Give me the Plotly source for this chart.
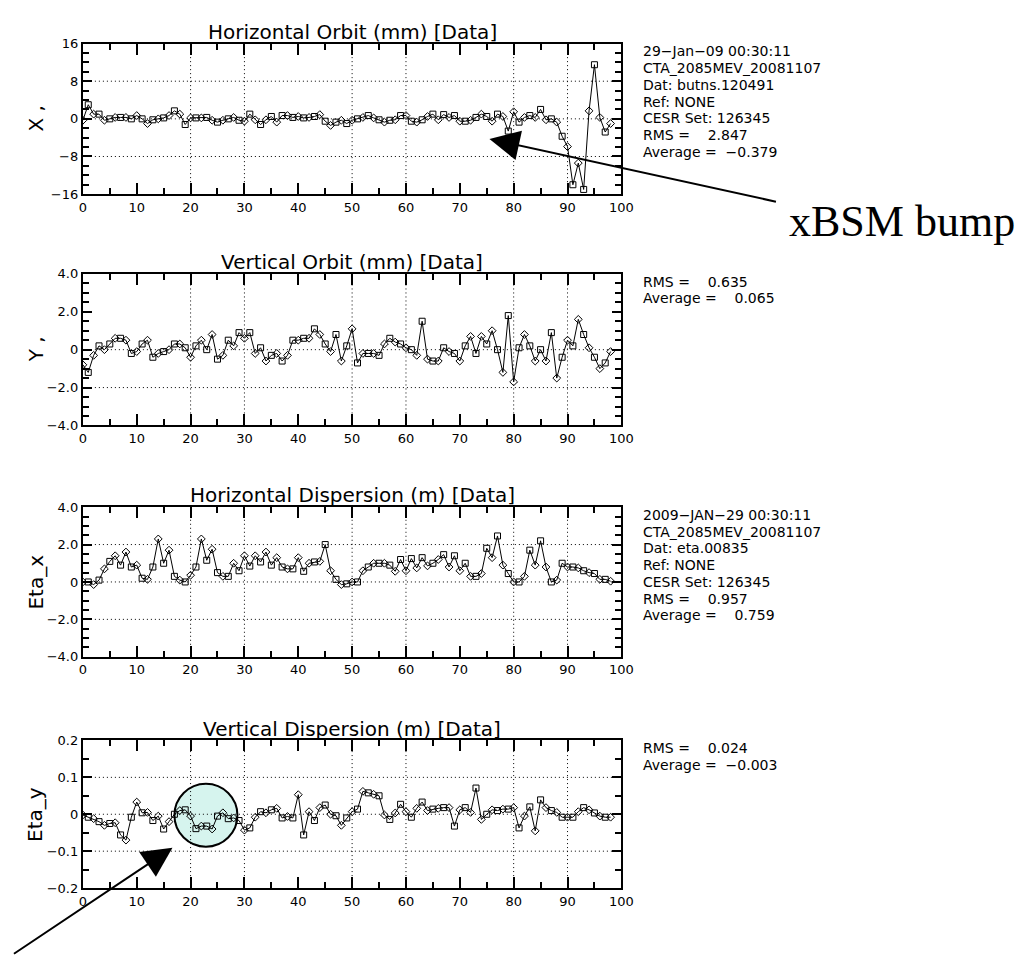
import plotly.graph_objects as go

W, H = 1028, 956

# ---------------- data ----------------
IDX = list(range(99))

X_ORBIT = [-0.3, 3.0, 1.0, 1.0, -0.3, 0.0, 0.3, 0.3, 0.3, 0.0,
           0.7, 0.0, -1.0, -0.2, 0.0, 0.2, 0.7, 1.7, 1.0, -1.2,
           0.2, 0.2, 0.2, 0.3, -0.3, -0.7, -0.3, 0.0, 0.3, -0.3,
           -0.5, 1.0, -0.2, -1.2, -0.2, 0.5, -0.7, 0.7, 0.7, 0.3,
           0.5, 0.2, 0.3, 0.5, 0.9, -0.5, -1.4, -0.7, -0.3, -1.0,
           -0.3, 0.0, 0.3, 0.7, 0.2, -0.2, -0.7, -0.3, -0.2, 0.7,
           0.7, -0.5, -0.7, -0.2, 0.5, 1.0, -0.2, 0.9, 0.3, 0.7,
           -0.5, -0.5, -0.3, 0.3, 1.0, 0.5, -0.5, 1.0, 0.5, -2.6,
           1.5, -0.7, 0.3, 0.7, 0.3, 2.0, -0.2, 0.0, -0.7, -3.7,
           -5.9, -14.0, -9.4, -15.0, 1.7, 11.5, 0.3, -2.8, -1.0]

Y_ORBIT = [-0.8, -1.2, -0.3, 0.2, 0.0, 0.3, 0.6, 0.6, 0.5, -0.2,
           -0.1, 0.3, 0.5, -0.4, -0.2, -0.1, 0.0, 0.3, 0.3, 0.1,
           -0.4, 0.2, 0.5, 0.0, 0.8, -0.5, -0.3, 0.5, 0.2, 0.9,
           0.6, 0.9, -0.2, 0.1, -0.6, -0.3, -0.2, -0.6, -0.3, 0.5,
           0.5, 0.6, 0.6, 1.1, 0.8, 0.3, -0.1, 0.8, -0.6, 0.2,
           1.1, -0.7, -0.2, -0.2, -0.2, -0.3, 0.3, 0.6, 0.4, 0.3,
           0.1, 0.0, -0.3, 1.5, -0.5, -0.6, -0.6, 0.1, -0.1, -0.2,
           -0.6, 0.2, 0.7, -0.2, 0.7, 0.3, 1.0, 0.0, -1.2, 1.8,
           -1.7, 0.1, 0.8, 0.2, -0.6, 0.0, -0.6, 0.9, -1.5, -0.4,
           0.5, 0.2, 1.6, 0.8, 0.1, -0.4, -1.0, -0.7, -0.1]

ETA_X = [0.0, 0.0, -0.14, 0.1, 0.7, 1.1, 1.4, 0.9, 1.6, 0.8,
         0.9, 0.2, 0.14, 0.8, 2.3, 1.0, 1.7, 0.3, 0.1, 0.0,
         0.36, 0.8, 2.3, 1.16, 1.75, 0.5, 0.3, 0.3, 1.0, 0.6,
         1.4, 0.85, 1.4, 1.07, 1.6, 0.9, 1.3, 0.8, 0.7, 0.7,
         1.3, 0.57, 1.0, 1.07, 1.1, 2.0, 0.6, 0.14, -0.14, -0.1,
         0.0, 0.0, 0.6, 0.8, 1.0, 1.0, 1.0, 0.9, 0.57, 1.2,
         0.6, 1.25, 0.75, 1.3, 0.86, 1.0, 1.2, 1.46, 0.8, 1.4,
         0.6, 1.0, 0.3, 0.3, 0.45, 1.8, 1.3, 2.46, 0.9, 0.45,
         0.0, 0.0, 0.3, 1.7, 0.9, 2.2, 0.8, 0.0, 0.1, 1.0,
         0.8, 0.8, 0.75, 0.6, 0.5, 0.45, 0.14, 0.14, 0.04]

ETA_Y = [-0.002, -0.008, -0.012, -0.02, -0.03, -0.025, -0.023, -0.056, -0.07, -0.008,
         0.033, 0.004, 0.005, -0.017, -0.005, -0.04, -0.02, 0.0, 0.01, 0.012,
         -0.005, -0.039, -0.032, -0.032, -0.04, -0.005, 0.004, -0.012, -0.01, -0.017,
         -0.043, -0.037, -0.008, 0.007, 0.004, 0.012, 0.016, -0.01, -0.006, -0.01,
         0.053, -0.056, 0.007, -0.017, 0.018, 0.025, 0.0, -0.004, -0.03, -0.01,
         0.007, 0.014, 0.062, 0.058, 0.054, 0.05, -0.002, -0.014, 0.0035, 0.027,
         0.007, -0.008, 0.016, 0.033, 0.01, 0.014, 0.016, 0.018, 0.018, -0.032,
         0.012, 0.018, 0.005, 0.071, -0.014, 0.0, 0.012, 0.01, 0.014, 0.014,
         0.018, -0.037, -0.005, 0.02, -0.045, 0.039, 0.018, 0.01, 0.005, -0.008,
         -0.008, -0.008, 0.007, 0.018, 0.012, 0.0035, -0.005, -0.008, -0.008]

SERIES = [X_ORBIT, Y_ORBIT, ETA_X, ETA_Y]

PANEL_TITLES = ["Horizontal Orbit (mm) [Data]", "Vertical Orbit (mm) [Data]",
                "Horizontal Dispersion (m) [Data]", "Vertical Dispersion (m) [Data]"]
Y_TITLES = ["X ,", "Y ,", "Eta_x", "Eta_y"]
Y_RANGES = [[-16, 16], [-4, 4], [-4, 4], [-0.2, 0.2]]
Y_TICKVALS = [[-16, -8, 0, 8, 16], [-4, -2, 0, 2, 4], [-4, -2, 0, 2, 4], [-0.2, -0.1, 0, 0.1, 0.2]]
Y_TICKTEXT = [["\u221216", "\u22128", "0", "8", "16"],
              ["\u22124.0", "\u22122.0", "0", "2.0", "4.0"],
              ["\u22124.0", "\u22122.0", "0", "2.0", "4.0"],
              ["\u22120.2", "\u22120.1", "0", "0.1", "0.2"]]
Y_MINOR = [2, 0.5, 0.5, 0.05]
X_TICKVALS = [0, 10, 20, 30, 40, 50, 60, 70, 80, 90, 100]
GRID_X = [20, 30, 50, 60, 80, 90]
GRID_Y = [[8, 0, -8], [0, -2], [2, 0, -2], [0.1, 0, -0.1]]

INFO = [["29\u2212Jan\u221209 00:30:11", "CTA_2085MEV_20081107", "Dat: butns.120491",
         "Ref: NONE", "CESR Set: 126345", "RMS =    2.847", "Average =  \u22120.379"],
        ["RMS =    0.635", "Average =    0.065"],
        ["2009\u2212JAN\u221229 00:30:11", "CTA_2085MEV_20081107", "Dat: eta.00835",
         "Ref: NONE", "CESR Set: 126345", "RMS =    0.957", "Average =    0.759"],
        ["RMS =    0.024", "Average =  \u22120.003"]]

# ---------------- layout geometry (pixels) ----------------
PLOT_L, PLOT_R = 72, 619
PANEL_TOP = [29, 263, 500, 737]
PANEL_BOT = [182, 417, 652, 887]
INFO_X = 639
INFO_DY = 17


def px(p):
    return p / W


def py(p):
    return 1 - p / H


FONT = "DejaVu Sans"
fig = go.Figure()
annotations = []
shapes = []

# highlight circle (below data)
shapes.append(dict(type="circle", xref="paper", yref="paper", layer="below",
                   x0=px(165), x1=px(229), y0=py(845), y1=py(781),
                   fillcolor="#d6f4ee", line=dict(color="black", width=2)))

for i in range(4):
    n = i + 1
    xa = "x" if n == 1 else f"x{n}"
    ya = "y" if n == 1 else f"y{n}"
    symbols = ["diamond-open" if k % 2 == 0 else "square-open" for k in IDX]
    fig.add_trace(go.Scatter(
        x=IDX, y=SERIES[i], xaxis=xa, yaxis=ya, mode="lines+markers",
        line=dict(color="black", width=1),
        marker=dict(symbol=symbols, size=6, color="black", line=dict(width=1, color="black")),
        showlegend=False, hoverinfo="skip"))

    axis_common = dict(showline=True, linecolor="black", linewidth=2, mirror="ticks",
                       ticks="inside", tickcolor="black", tickwidth=1.5,
                       showgrid=False, zeroline=False,
                       tickfont=dict(family=FONT, size=13, color="black"))
    fig.update_layout(**{
        ("xaxis" if n == 1 else f"xaxis{n}"): dict(
            domain=[px(PLOT_L), px(PLOT_R)], anchor=ya, range=[0, 100],
            tickvals=X_TICKVALS, ticklen=11,
            minor=dict(dtick=5, tick0=0, ticks="inside", ticklen=6, tickcolor="black", tickwidth=1.5),
            **axis_common),
        ("yaxis" if n == 1 else f"yaxis{n}"): dict(
            domain=[py(PANEL_BOT[i]), py(PANEL_TOP[i])], anchor=xa, range=Y_RANGES[i],
            tickvals=Y_TICKVALS[i], ticktext=Y_TICKTEXT[i], ticklen=9,
            minor=dict(dtick=Y_MINOR[i], tick0=0, ticks="inside", ticklen=6, tickcolor="black", tickwidth=1.5),
            **axis_common),
    })

    # dotted grid lines
    for gx in GRID_X:
        shapes.append(dict(type="line", xref=xa, yref=f"{ya} domain", x0=gx, x1=gx, y0=0, y1=1,
                           line=dict(color="black", width=1, dash="1px,3px"), layer="above"))
    for gy in GRID_Y[i]:
        shapes.append(dict(type="line", xref=f"{xa} domain", yref=ya, x0=0, x1=1, y0=gy, y1=gy,
                           line=dict(color="black", width=1, dash="1px,3px"), layer="above"))

    # panel title
    annotations.append(dict(text=PANEL_TITLES[i], xref="paper", yref="paper",
                            x=px((PLOT_L + PLOT_R) / 2), y=py(PANEL_TOP[i] - 12),
                            xanchor="center", yanchor="middle", showarrow=False,
                            font=dict(family=FONT, size=20, color="black")))
    # y title
    annotations.append(dict(text=Y_TITLES[i], xref="paper", yref="paper",
                            x=px(24), y=py((PANEL_TOP[i] + PANEL_BOT[i]) / 2),
                            xanchor="center", yanchor="middle", showarrow=False, textangle=-90,
                            font=dict(family=FONT, size=20, color="black")))
    # info text
    for j, line in enumerate(INFO[i]):
        annotations.append(dict(text=line, xref="paper", yref="paper",
                                x=px(INFO_X), y=py(PANEL_TOP[i] + 8 + j * INFO_DY),
                                xanchor="left", yanchor="middle", showarrow=False,
                                font=dict(family=FONT, size=14, color="black")))

# xBSM bump label and arrows
annotations.append(dict(text="xBSM bump", xref="paper", yref="paper",
                        x=px(904), y=py(210), xanchor="center", yanchor="middle",
                        showarrow=False, font=dict(family="Liberation Serif", size=44, color="black")))
annotations.append(dict(text="", xref="paper", yref="paper", x=px(485), y=py(126),
                        ax=773 - 485, ay=189 - 126, axref="pixel", ayref="pixel",
                        showarrow=True, arrowhead=2, arrowsize=3, arrowwidth=2, arrowcolor="black"))
annotations.append(dict(text="", xref="paper", yref="paper", x=px(163), y=py(846),
                        ax=3 - 163, ay=953 - 846, axref="pixel", ayref="pixel",
                        showarrow=True, arrowhead=2, arrowsize=3, arrowwidth=2, arrowcolor="black"))

fig.update_layout(width=W, height=H, autosize=False,
                  margin=dict(l=0, r=0, t=0, b=0, pad=0),
                  paper_bgcolor="white", plot_bgcolor="rgba(0,0,0,0)",
                  annotations=annotations, shapes=shapes, showlegend=False)

fig.write_html("out.html")
